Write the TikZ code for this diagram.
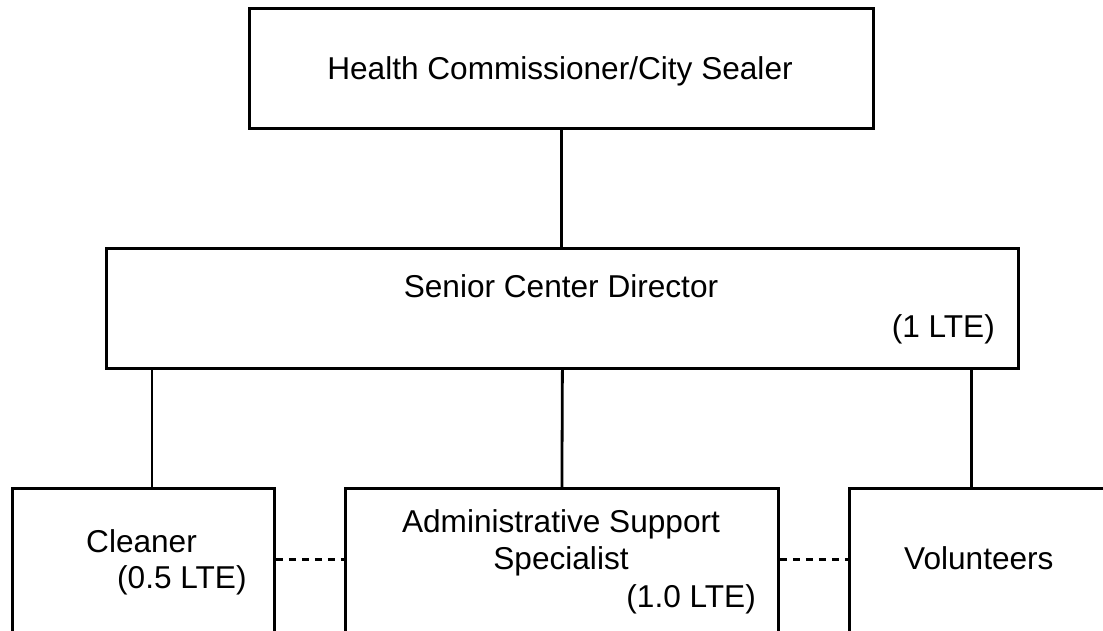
\documentclass[tikz,border=0pt]{standalone}
\usepackage{fontspec}
\setmainfont{Liberation Sans}
\begin{document}
\begin{tikzpicture}[x=1pt,y=-1pt,
  box/.style={draw=black,line width=2.8pt,rectangle,inner sep=0pt,anchor=north west},
  lbl/.style={inner sep=0pt,font=\fontsize{31.6}{38}\selectfont},
  conn/.style={draw=black,line width=2.8pt},
  dconn/.style={draw=black,line width=2.8pt,dash pattern=on 7pt off 6pt}]
\useasboundingbox (0,0) rectangle (1103,630);
\clip (0,0) rectangle (1103,630);
\fill[white] (0,0) rectangle (1103,630);
% boxes
\node[box,minimum width=624pt,minimum height=120pt] (top) at (248,7) {};
\node[box,minimum width=912pt,minimum height=120pt] (mid) at (105,247) {};
\node[box,minimum width=262pt,minimum height=213pt] (cl) at (11,487) {};
\node[box,minimum width=433pt,minimum height=213pt] (adm) at (344,487) {};
\node[box,minimum width=302pt,minimum height=213pt] (vol) at (848,487) {};
% texts
\node[lbl,anchor=base] (ttop) at (560,79) {Health Commissioner/City Sealer};
\node[lbl,anchor=base] (tmid) at (561,297) {Senior Center Director};
\node[lbl,anchor=base east] (tmid2) at (995,337) {(1 LTE)};
\node[lbl,anchor=base west] (tcl) at (86,552) {Cleaner};
\node[lbl,anchor=base west] (tcl2) at (117,588) {(0.5 LTE)};
\node[lbl,anchor=base] (tadm) at (561,532) {Administrative Support};
\node[lbl,anchor=base] (tadm2) at (561,569) {Specialist};
\node[lbl,anchor=base east] (tadm3) at (756,607) {(1.0 LTE)};
\node[lbl,anchor=base west] (tvol) at (904,569) {Volunteers};
% connectors
\draw[conn] (top.south) -- (top.south |- mid.north);
\draw[conn] (mid.south) -- (adm.north);
\draw[conn] ([xshift=47pt]mid.south west) -- ([xshift=47pt]mid.south west |- cl.north);
\draw[conn] ([xshift=-48pt]mid.south east) -- ([xshift=-48pt]mid.south east |- vol.north);
\draw[dconn] ([yshift=35.5pt]cl.east) -- ([yshift=35.5pt]cl.east -| adm.west);
\draw[dconn] ([yshift=35.5pt]adm.east) -- ([yshift=35.5pt]adm.east -| vol.west);
\end{tikzpicture}
\end{document}
